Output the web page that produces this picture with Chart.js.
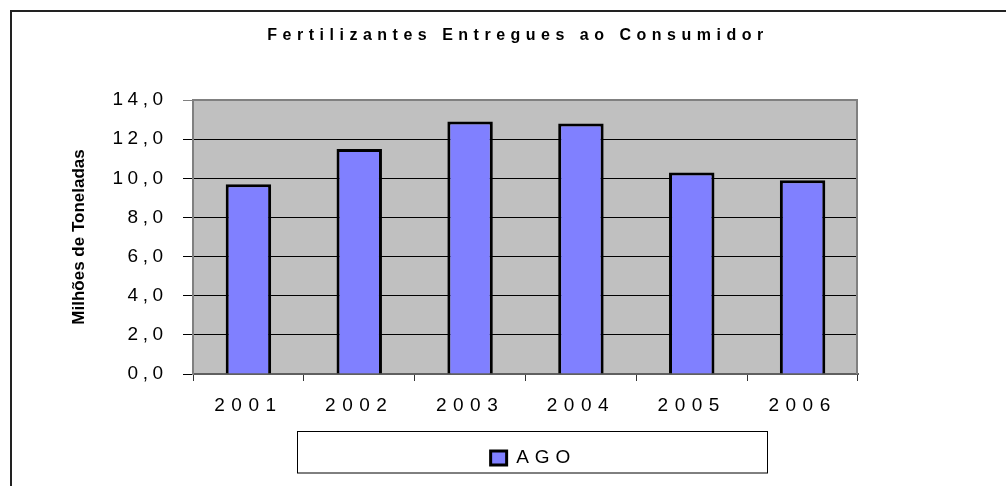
<!DOCTYPE html>
<html>
<head>
<meta charset="utf-8">
<script src="https://cdn.jsdelivr.net/npm/chart.js@4.4.1/dist/chart.umd.min.js"></script>
<style>
  html, body { margin: 0; padding: 0; background: #fff; }
  canvas { display: block; }
</style>
</head>
<body>
<canvas id="grafico" width="1006" height="486"></canvas>
<script>
// Dados do gráfico
const anos = ['2001', '2002', '2003', '2004', '2005', '2006'];
const ago = [9.7, 11.5, 12.9, 12.8, 10.3, 9.9];
const titulo = 'Fertilizantes Entregues ao Consumidor';
const tituloY = 'Milhões de Toneladas';
const nomeSerie = 'AGO';

const fonte = 'Arial, "Liberation Sans", sans-serif';

// Espaçamento entre letras (estilo Excel) aplicado só a alguns textos
function comEspaco(obj, nome, esp, dx) {
    const orig = obj[nome];
    obj[nome] = function () {
        const c = this.ctx;
        const ant = c.letterSpacing;
        c.save();
        if (dx) c.translate(dx, 0);
        c.letterSpacing = esp;
        const r = orig.apply(this, arguments);
        c.restore();
        c.letterSpacing = ant;
        return r;
    };
}

const estiloExcel = {
    id: 'estiloExcel',
    beforeLayout(chart) {
        if (chart._espacado) return;
        chart._espacado = true;
        comEspaco(chart.titleBlock, 'draw', '5.5px');
        comEspaco(chart.legend, 'fit', '6px');
        comEspaco(chart.legend, 'draw', '6px', 8); // legenda um pouco à direita
        comEspaco(chart.scales.x, 'drawLabels', '6.5px');
        comEspaco(chart.scales.y, 'drawLabels', '4.5px');
    },
    beforeDraw(chart) {
        const c = chart.ctx;
        const a = chart.chartArea;
        c.save();
        c.fillStyle = '#fff';
        c.fillRect(0, 0, chart.width, chart.height);
        // moldura externa
        c.strokeStyle = '#222';
        c.lineWidth = 2;
        c.beginPath();
        c.moveTo(11, chart.height);
        c.lineTo(11, 11);
        c.lineTo(chart.width, 11);
        c.stroke();
        // caixa da legenda
        c.strokeStyle = '#000';
        c.lineWidth = 1;
        c.strokeRect(297.5, 431.5, 470, 41.5);
        // fundo da área de plotagem
        c.fillStyle = '#C0C0C0';
        c.fillRect(a.left, a.top, a.right - a.left, a.bottom - a.top);
        c.restore();
    },
    afterDatasetsDraw(chart) {
        const c = chart.ctx;
        const a = chart.chartArea;
        c.save();
        c.strokeStyle = '#808080';
        c.lineWidth = 2;
        c.beginPath();
        c.moveTo(a.left, a.top);
        c.lineTo(a.right - 1, a.top);
        c.lineTo(a.right - 1, a.bottom);
        c.stroke();
        c.restore();
    }
};

const ctx = document.getElementById('grafico').getContext('2d');

new Chart(ctx, {
    type: 'bar',
    data: {
        labels: anos,
        datasets: [{
            label: nomeSerie,
            data: ago,
            backgroundColor: '#8080FF',
            borderColor: '#000',
            borderWidth: 3,
            barPercentage: 0.41,
            categoryPercentage: 1.0
        }]
    },
    plugins: [estiloExcel],
    options: {
        responsive: false,
        animation: false,
        devicePixelRatio: 1,
        layout: { padding: { left: 30, right: 0, top: 0, bottom: 8.5 } },
        plugins: {
            tooltip: { enabled: false },
            title: {
                display: true,
                text: titulo,
                color: '#000',
                font: { family: fonte, size: 16, weight: 'bold' },
                padding: { top: 26.4, bottom: 54.4 }
            },
            legend: {
                position: 'bottom',
                fullSize: false,
                labels: {
                    color: '#000',
                    font: { family: fonte, size: 19 },
                    boxWidth: 16,
                    boxHeight: 14,
                    padding: 10
                }
            }
        },
        scales: {
            x: {
                grid: {
                    drawOnChartArea: false,
                    color: '#333',
                    tickLength: 7
                },
                border: { color: '#606060', width: 2 },
                ticks: {
                    color: '#000',
                    font: { family: fonte, size: 19 },
                    padding: 13.6,
                    maxRotation: 0
                },
                afterFit: (s) => { s.height = 64.5; }
            },
            y: {
                min: 0,
                max: 14,
                ticks: {
                    stepSize: 2,
                    color: '#000',
                    font: { family: fonte, size: 19 },
                    padding: 15.5,
                    callback: (v) => v.toFixed(1).replace('.', ',')
                },
                grid: {
                    color: (c) => (c.tick && c.tick.value === 14) ? '#808080' : '#000',
                    tickLength: 10
                },
                border: { color: '#808080', width: 2 },
                title: {
                    display: true,
                    text: tituloY,
                    color: '#000',
                    font: { family: fonte, size: 17, weight: 'bold' },
                    padding: { top: 38.8, bottom: 0 }
                },
                afterFit: (s) => { s.width = 163; }
            },
            // eixo vazio à direita só para reservar o espaço
            y2: {
                position: 'right',
                ticks: { display: false },
                grid: { display: false },
                border: { display: false },
                afterFit: (s) => { s.width = 148; }
            }
        }
    }
});
</script>
</body>
</html>
